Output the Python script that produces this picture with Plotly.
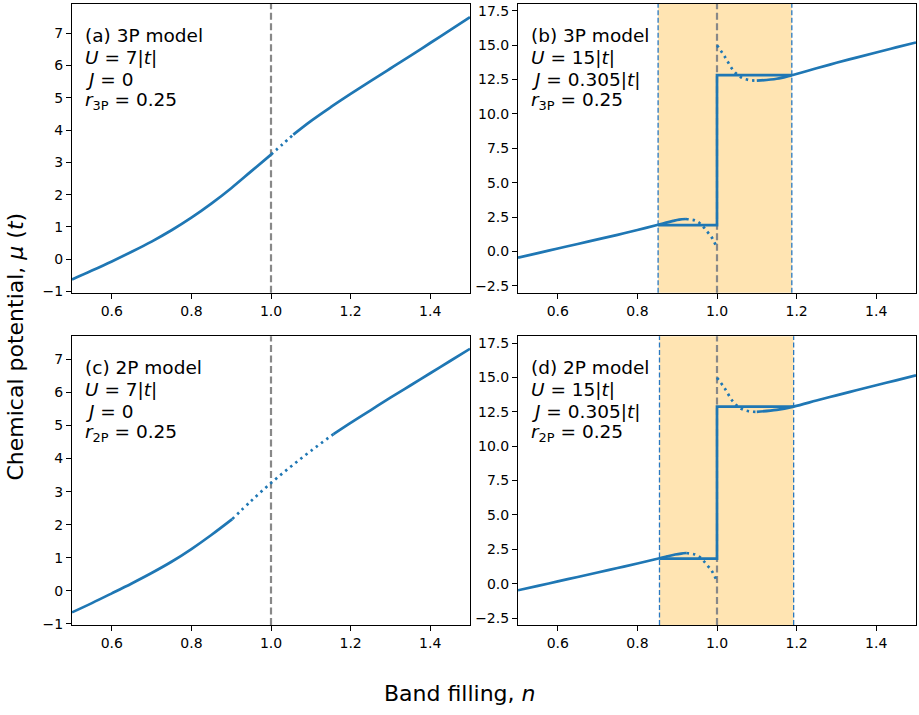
import plotly.graph_objects as go

# ---------------- data ----------------
# (a) 3P model, U=7|t|, J=0
A_lo_n = [0.5, 0.55, 0.6, 0.65, 0.7, 0.75, 0.8, 0.85, 0.9, 0.95, 1.0]
A_lo_mu = [-0.63, -0.355, -0.07, 0.23, 0.545, 0.895, 1.285, 1.72, 2.20, 2.72, 3.24]
A_dot_n = [1.0, 1.028, 1.056]
A_dot_mu = [3.24, 3.55, 3.86]
A_hi_n = [1.056, 1.1, 1.15, 1.2, 1.25, 1.3, 1.35, 1.4, 1.45, 1.5]
A_hi_mu = [3.86, 4.28, 4.71, 5.12, 5.52, 5.91, 6.30, 6.70, 7.10, 7.50]

# (c) 2P model, U=7|t|, J=0
C_lo_n = [0.5, 0.55, 0.6, 0.65, 0.7, 0.75, 0.8, 0.85, 0.9025]
C_lo_mu = [-0.65, -0.37, -0.075, 0.225, 0.54, 0.88, 1.265, 1.69, 2.17]
C_dot_n = [0.9025, 0.95, 1.0, 1.05, 1.1, 1.157]
C_dot_mu = [2.17, 2.72, 3.26, 3.76, 4.23, 4.74]
C_hi_n = [1.157, 1.2, 1.25, 1.3, 1.35, 1.4, 1.45, 1.5]
C_hi_mu = [4.74, 5.08, 5.46, 5.84, 6.21, 6.58, 6.95, 7.32]

# (b) 3P model, U=15|t|, J=0.305|t|
B_lo_n = [0.5, 0.55, 0.6, 0.65, 0.7, 0.75, 0.8, 0.852, 0.87, 0.89, 0.905, 0.922]
B_lo_mu = [-0.45, -0.12, 0.215, 0.545, 0.875, 1.21, 1.56, 1.94, 2.08, 2.22, 2.31, 2.36]
B_dlo_n = [0.922, 0.944, 0.956, 0.966, 0.976, 0.986, 0.992, 1.0]
B_dlo_mu = [2.36, 2.26, 2.07, 1.78, 1.42, 1.06, 0.75, 0.27]
B_dhi_n = [1.0, 1.02, 1.04, 1.06, 1.08, 1.1]
B_dhi_mu = [15.0, 14.15, 13.2, 12.67, 12.47, 12.42]
B_hi_n = [1.1, 1.15, 1.188, 1.25, 1.3, 1.35, 1.4, 1.45, 1.5]
B_hi_mu = [12.42, 12.56, 12.82, 13.32, 13.72, 14.1, 14.47, 14.84, 15.2]
B_mx_n = [0.852, 1.0, 1.0, 1.188]
B_mx_mu = [1.92, 1.92, 12.82, 12.82]
B_shade = [0.852, 1.188]

# (d) 2P model, U=15|t|, J=0.305|t|
D_lo_n = [0.5, 0.55, 0.6, 0.65, 0.7, 0.75, 0.8, 0.8555, 0.875, 0.895, 0.91, 0.923]
D_lo_mu = [-0.48, -0.16, 0.165, 0.49, 0.815, 1.14, 1.47, 1.85, 1.99, 2.12, 2.19, 2.23]
D_dlo_n = [0.923, 0.944, 0.956, 0.966, 0.976, 0.986, 0.992, 1.0]
D_dlo_mu = [2.23, 2.13, 1.95, 1.67, 1.32, 0.97, 0.66, 0.17]
D_dhi_n = [1.0, 1.02, 1.04, 1.06, 1.08, 1.1]
D_dhi_mu = [14.98, 14.18, 13.25, 12.74, 12.54, 12.5]
D_hi_n = [1.1, 1.15, 1.1926, 1.25, 1.3, 1.35, 1.4, 1.45, 1.5]
D_hi_mu = [12.5, 12.64, 12.88, 13.32, 13.7, 14.07, 14.43, 14.79, 15.15]
D_mx_n = [0.8555, 1.0, 1.0, 1.1926]
D_mx_mu = [1.83, 1.83, 12.88, 12.88]
D_shade = [0.8555, 1.1926]

half_filling = 1.0

labels = {
    "a": ["(a) 3P model", "<i>U</i> = 7|<i>t</i>|", "<i>J</i> = 0", "<i>r</i><sub>3P</sub> = 0.25"],
    "b": ["(b) 3P model", "<i>U</i> = 15|<i>t</i>|", "<i>J</i> = 0.305|<i>t</i>|", "<i>r</i><sub>3P</sub> = 0.25"],
    "c": ["(c) 2P model", "<i>U</i> = 7|<i>t</i>|", "<i>J</i> = 0", "<i>r</i><sub>2P</sub> = 0.25"],
    "d": ["(d) 2P model", "<i>U</i> = 15|<i>t</i>|", "<i>J</i> = 0.305|<i>t</i>|", "<i>r</i><sub>2P</sub> = 0.25"],
}

# ---------------- styling ----------------
W, H = 919, 715
BLUE = "#1f77b4"
FONT = "DejaVu Sans"
LW = 2.7
DOT = "2.5px,4px"

# axis pixel boxes (left, right, top, bottom)
boxes = {
    "a": (72, 470, 3, 295),
    "b": (518, 916, 3, 295),
    "c": (72, 470, 339, 631),
    "d": (518, 916, 339, 631),
}
axmap = {"a": ("x", "y"), "b": ("x2", "y2"), "c": ("x3", "y3"), "d": ("x4", "y4")}
yranges = {"a": [-1.04, 7.91], "b": [-3, 18], "c": [-1.03, 7.70], "d": [-3, 18]}

fig = go.Figure()


def line(p, xs, ys, dash="solid", shape="spline"):
    xa, ya = axmap[p]
    fig.add_trace(go.Scatter(x=xs, y=ys, xaxis=xa, yaxis=ya, mode="lines",
                             line=dict(color=BLUE, width=LW, dash=dash, shape=shape,
                                       smoothing=1.0),
                             showlegend=False, hoverinfo="skip"))


line("a", A_lo_n, A_lo_mu)
line("a", A_dot_n, A_dot_mu, DOT)
line("a", A_hi_n, A_hi_mu)

line("c", C_lo_n, C_lo_mu)
line("c", C_dot_n, C_dot_mu, DOT)
line("c", C_hi_n, C_hi_mu)

for p, lo_n, lo_mu, dlo_n, dlo_mu, dhi_n, dhi_mu, hi_n, hi_mu, mx_n, mx_mu in [
    ("b", B_lo_n, B_lo_mu, B_dlo_n, B_dlo_mu, B_dhi_n, B_dhi_mu, B_hi_n, B_hi_mu, B_mx_n, B_mx_mu),
    ("d", D_lo_n, D_lo_mu, D_dlo_n, D_dlo_mu, D_dhi_n, D_dhi_mu, D_hi_n, D_hi_mu, D_mx_n, D_mx_mu),
]:
    line(p, lo_n, lo_mu)
    line(p, dlo_n, dlo_mu, DOT)
    line(p, dhi_n, dhi_mu, DOT)
    line(p, hi_n, hi_mu)
    line(p, mx_n, mx_mu, shape="linear")

shapes = []
for p, sh in [("b", B_shade), ("d", D_shade)]:
    xa, ya = axmap[p]
    shapes.append(dict(type="rect", xref=xa, yref=ya + " domain", x0=sh[0], x1=sh[1],
                       y0=0, y1=1, fillcolor="rgba(255,165,0,0.3)", line=dict(width=0),
                       layer="below"))
    for xv in sh:
        shapes.append(dict(type="line", xref=xa, yref=ya + " domain", x0=xv, x1=xv,
                           y0=0, y1=1, line=dict(color="#2a78c0", width=1.3, dash="5px,2.5px"),
                           layer="below"))
for p in "abcd":
    xa, ya = axmap[p]
    shapes.append(dict(type="line", xref=xa, yref=ya + " domain", x0=half_filling, x1=half_filling,
                       y0=0, y1=1, line=dict(color="#888888", width=2.2, dash="7px,3.5px"),
                       layer="below"))

annotations = []
line_pos = [0.890, 0.816, 0.740, 0.665]
for p in "abcd":
    xa, ya = axmap[p]
    for txt, yp in zip(labels[p], line_pos):
        annotations.append(dict(text=txt, xref=xa + " domain", yref=ya + " domain",
                                x=0.028, y=yp, xanchor="left", yanchor="middle",
                                showarrow=False, font=dict(family=FONT, size=18.5, color="black")))

annotations.append(dict(text="Band filling, <i>n</i>", xref="paper", yref="paper",
                        x=0.5, y=(H - 700) / H, xanchor="center", yanchor="middle",
                        showarrow=False, font=dict(family=FONT, size=22, color="black")))
annotations.append(dict(text="Chemical potential, <i>μ</i> (<i>t</i>)", xref="paper", yref="paper",
                        x=15.5 / W, y=(H - 350) / H, xanchor="center", yanchor="middle",
                        textangle=-90, showarrow=False,
                        font=dict(family=FONT, size=22, color="black")))

layout = dict(width=W, height=H, margin=dict(l=0, r=0, t=0, b=0),
              paper_bgcolor="white", plot_bgcolor="white",
              shapes=shapes, annotations=annotations, showlegend=False,
              font=dict(family=FONT, color="black"))

axis_common = dict(showline=True, mirror=True, linecolor="black", linewidth=1.1,
                   ticks="outside", ticklen=5, tickwidth=1.1, tickcolor="black",
                   showgrid=False, zeroline=False,
                   tickfont=dict(family=FONT, size=14, color="black"))

for i, p in enumerate("abcd"):
    l, r, t, b = boxes[p]
    xk = "xaxis" if i == 0 else f"xaxis{i+1}"
    yk = "yaxis" if i == 0 else f"yaxis{i+1}"
    xa, ya = axmap[p]
    layout[xk] = dict(axis_common, domain=[l / W, r / W], range=[0.5, 1.5],
                      tickvals=[0.6, 0.8, 1.0, 1.2, 1.4], tickformat=".1f", anchor=ya)
    if p in "ac":
        yt = dict(tickvals=[-1, 0, 1, 2, 3, 4, 5, 6, 7], tickformat="d")
    else:
        yt = dict(tickvals=[-2.5, 0, 2.5, 5, 7.5, 10, 12.5, 15, 17.5], tickformat=".1f")
    layout[yk] = dict(axis_common, domain=[(H - b) / H, (H - t) / H], range=yranges[p],
                      anchor=xa, **yt)

fig.update_layout(**layout)
fig.write_html("out.html")
